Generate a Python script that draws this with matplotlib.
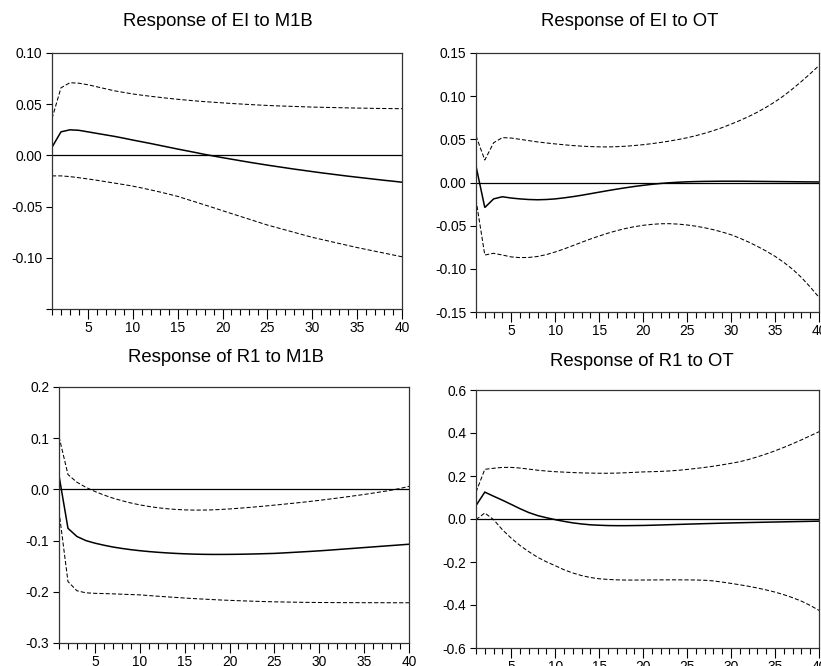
import numpy as np
import matplotlib
matplotlib.use('Agg')
import matplotlib.pyplot as plt
from matplotlib.ticker import MultipleLocator, FixedLocator

plt.rcParams['font.family'] = ['Liberation Sans', 'DejaVu Sans']
plt.rcParams['axes.unicode_minus'] = False

periods = list(range(1, 41))

# Response of EI to M1B
ei_m1b = [0.0080, 0.0230, 0.0250, 0.0245, 0.0230, 0.0215, 0.0200, 0.0185, 0.0168, 0.0150,
          0.0133, 0.0116, 0.0098, 0.0080, 0.0062, 0.0045, 0.0028, 0.0010, -0.0006, -0.0022,
          -0.0037, -0.0052, -0.0067, -0.0081, -0.0095, -0.0108, -0.0121, -0.0134, -0.0146, -0.0158,
          -0.0170, -0.0181, -0.0192, -0.0203, -0.0213, -0.0223, -0.0233, -0.0243, -0.0252, -0.0262]
ei_m1b_hi = [0.0360, 0.0660, 0.0710, 0.0705, 0.0690, 0.0670, 0.0650, 0.0630, 0.0615, 0.0600,
             0.0588, 0.0577, 0.0567, 0.0557, 0.0548, 0.0540, 0.0532, 0.0525, 0.0519, 0.0513,
             0.0507, 0.0502, 0.0497, 0.0492, 0.0488, 0.0484, 0.0481, 0.0478, 0.0475, 0.0472,
             0.0470, 0.0468, 0.0466, 0.0464, 0.0462, 0.0461, 0.0459, 0.0458, 0.0457, 0.0456]
ei_m1b_lo = [-0.0200, -0.0200, -0.0207, -0.0218, -0.0230, -0.0243, -0.0257, -0.0271, -0.0285, -0.0300,
             -0.0318, -0.0337, -0.0357, -0.0378, -0.0400, -0.0428, -0.0455, -0.0483, -0.0511, -0.0540,
             -0.0568, -0.0596, -0.0624, -0.0652, -0.0680, -0.0704, -0.0728, -0.0752, -0.0776, -0.0800,
             -0.0820, -0.0840, -0.0860, -0.0880, -0.0900, -0.0918, -0.0936, -0.0954, -0.0972, -0.0990]

# Response of EI to OT
ei_ot = [0.0190, -0.0290, -0.0190, -0.0165, -0.0180, -0.0190, -0.0197, -0.0200, -0.0197, -0.0190,
         -0.0178, -0.0164, -0.0148, -0.0130, -0.0112, -0.0094, -0.0077, -0.0061, -0.0046, -0.0033,
         -0.0021, -0.0011, -0.0003, 0.0003, 0.0008, 0.0011, 0.0013, 0.0014, 0.0015, 0.0015,
         0.0015, 0.0014, 0.0013, 0.0012, 0.0011, 0.0010, 0.0009, 0.0008, 0.0007, 0.0006]
ei_ot_hi = [0.0540, 0.0260, 0.0460, 0.0520, 0.0515, 0.0500, 0.0485, 0.0470, 0.0458, 0.0447,
            0.0437, 0.0428, 0.0421, 0.0416, 0.0413, 0.0412, 0.0415, 0.0420, 0.0428, 0.0438,
            0.0450, 0.0464, 0.0480, 0.0498, 0.0518, 0.0542, 0.0570, 0.0601, 0.0636, 0.0676,
            0.0718, 0.0764, 0.0815, 0.0872, 0.0935, 0.1005, 0.1085, 0.1170, 0.1260, 0.1355]
ei_ot_lo = [-0.0200, -0.0840, -0.0820, -0.0840, -0.0862, -0.0870, -0.0868, -0.0857, -0.0835, -0.0805,
            -0.0770, -0.0732, -0.0693, -0.0655, -0.0620, -0.0587, -0.0558, -0.0533, -0.0512, -0.0496,
            -0.0485, -0.0478, -0.0477, -0.0482, -0.0492, -0.0506, -0.0524, -0.0547, -0.0574, -0.0605,
            -0.0645, -0.0690, -0.0740, -0.0795, -0.0855, -0.0925, -0.1005, -0.1100, -0.1210, -0.1330]

# Response of R1 to M1B
r1_m1b = [0.0270, -0.0760, -0.0920, -0.1000, -0.1050, -0.1090, -0.1125, -0.1153, -0.1177, -0.1197,
          -0.1214, -0.1228, -0.1240, -0.1250, -0.1258, -0.1264, -0.1268, -0.1270, -0.1270, -0.1269,
          -0.1267, -0.1264, -0.1260, -0.1255, -0.1250, -0.1241, -0.1231, -0.1221, -0.1211, -0.1200,
          -0.1188, -0.1175, -0.1162, -0.1149, -0.1136, -0.1123, -0.1110, -0.1097, -0.1084, -0.1071]
r1_m1b_hi = [0.1030, 0.0290, 0.0140, 0.0040, -0.0040, -0.0110, -0.0170, -0.0220, -0.0265, -0.0302,
             -0.0333, -0.0358, -0.0377, -0.0391, -0.0400, -0.0404, -0.0404, -0.0400, -0.0392, -0.0382,
             -0.0369, -0.0355, -0.0340, -0.0324, -0.0307, -0.0290, -0.0272, -0.0254, -0.0234, -0.0214,
             -0.0192, -0.0170, -0.0147, -0.0123, -0.0099, -0.0072, -0.0045, -0.0016, 0.0018, 0.0060]
r1_m1b_lo = [-0.0430, -0.1800, -0.1980, -0.2020, -0.2030, -0.2035, -0.2040, -0.2047, -0.2054, -0.2060,
             -0.2073, -0.2086, -0.2098, -0.2110, -0.2122, -0.2132, -0.2142, -0.2151, -0.2160, -0.2167,
             -0.2174, -0.2180, -0.2186, -0.2191, -0.2196, -0.2199, -0.2202, -0.2205, -0.2207, -0.2209,
             -0.2210, -0.2211, -0.2212, -0.2212, -0.2213, -0.2213, -0.2213, -0.2214, -0.2214, -0.2214]

# Response of R1 to OT
r1_ot = [0.0625, 0.1250, 0.1060, 0.0875, 0.0680, 0.0480, 0.0300, 0.0160, 0.0060, -0.0030,
         -0.0110, -0.0180, -0.0230, -0.0270, -0.0290, -0.0305, -0.0310, -0.0310, -0.0305, -0.0300,
         -0.0290, -0.0278, -0.0265, -0.0252, -0.0240, -0.0228, -0.0216, -0.0205, -0.0194, -0.0184,
         -0.0174, -0.0165, -0.0156, -0.0148, -0.0140, -0.0132, -0.0124, -0.0116, -0.0108, -0.0100]
r1_ot_hi = [0.1250, 0.2310, 0.2360, 0.2400, 0.2400, 0.2370, 0.2320, 0.2270, 0.2230, 0.2200,
            0.2180, 0.2160, 0.2145, 0.2135, 0.2128, 0.2128, 0.2135, 0.2150, 0.2170, 0.2190,
            0.2200, 0.2215, 0.2235, 0.2265, 0.2305, 0.2350, 0.2400, 0.2455, 0.2520, 0.2590,
            0.2665, 0.2770, 0.2890, 0.3025, 0.3170, 0.3330, 0.3500, 0.3680, 0.3870, 0.4060]
r1_ot_lo = [-0.0030, 0.0280, -0.0030, -0.0500, -0.0890, -0.1230, -0.1520, -0.1780, -0.1990, -0.2170,
            -0.2360, -0.2510, -0.2630, -0.2720, -0.2780, -0.2810, -0.2830, -0.2840, -0.2840, -0.2838,
            -0.2835, -0.2832, -0.2830, -0.2830, -0.2832, -0.2838, -0.2850, -0.2880, -0.2935, -0.2995,
            -0.3060, -0.3130, -0.3210, -0.3300, -0.3400, -0.3520, -0.3660, -0.3820, -0.4020, -0.4250]

panels = [
    ('Response of EI to M1B', ei_m1b, ei_m1b_hi, ei_m1b_lo,
     [-0.15, 0.10], [0.10, 0.05, 0.00, -0.05, -0.10, -0.15],
     ['0.10', '0.05', '0.00', '-0.05', '-0.10', '']),
    ('Response of EI to OT', ei_ot, ei_ot_hi, ei_ot_lo,
     [-0.15, 0.15], [0.15, 0.10, 0.05, 0.00, -0.05, -0.10, -0.15],
     ['0.15', '0.10', '0.05', '0.00', '-0.05', '-0.10', '-0.15']),
    ('Response of R1 to M1B', r1_m1b, r1_m1b_hi, r1_m1b_lo,
     [-0.3, 0.2], [0.2, 0.1, 0.0, -0.1, -0.2, -0.3],
     ['0.2', '0.1', '0.0', '-0.1', '-0.2', '-0.3']),
    ('Response of R1 to OT', r1_ot, r1_ot_hi, r1_ot_lo,
     [-0.6, 0.6], [0.6, 0.4, 0.2, 0.0, -0.2, -0.4, -0.6],
     ['0.6', '0.4', '0.2', '0.0', '-0.2', '-0.4', '-0.6']),
]

# axes boxes in pixels: left, top, right, bottom
W, H = 821, 666
boxes = [(52, 53, 402, 309), (476, 53, 819, 312), (59, 387, 409, 643), (476, 390, 819, 648)]
title_pos = [(218, 22), (630, 22), (226, 358), (642, 361)]

fig = plt.figure(figsize=(W / 100, H / 100), dpi=100)

for (title, mid, hi, lo, ylim, yt, ylab), (l, t, r, b), (tx, ty) in zip(panels, boxes, title_pos):
    ax = fig.add_axes([l / W, 1 - b / H, (r - l) / W, (b - t) / H])
    ax.axhline(0, color='black', lw=0.9)
    ax.plot(periods, mid, color='black', lw=1.1, solid_joinstyle='miter')
    ax.plot(periods, hi, color='black', lw=0.75, dashes=(4, 2))
    ax.plot(periods, lo, color='black', lw=0.75, dashes=(4, 2))
    ax.set_xlim(1, 40)
    ax.set_ylim(*ylim)
    ax.yaxis.set_major_locator(FixedLocator(yt))
    ax.set_yticklabels(ylab)
    ax.xaxis.set_major_locator(FixedLocator([5, 10, 15, 20, 25, 30, 35, 40]))
    ax.xaxis.set_minor_locator(MultipleLocator(1))
    ax.tick_params(axis='x', which='major', length=7, width=0.8, pad=1.5, labelsize=9.9)
    ax.tick_params(axis='x', which='minor', length=4, width=0.8)
    ax.tick_params(axis='y', length=4, width=0.8, pad=3, labelsize=9.9)
    for s in ax.spines.values():
        s.set_linewidth(0.9)
        s.set_color('#333333')
    fig.text(tx / W, 1 - ty / H, title, ha='center', va='center', fontsize=13.3)

fig.savefig('out.png', dpi=100)
